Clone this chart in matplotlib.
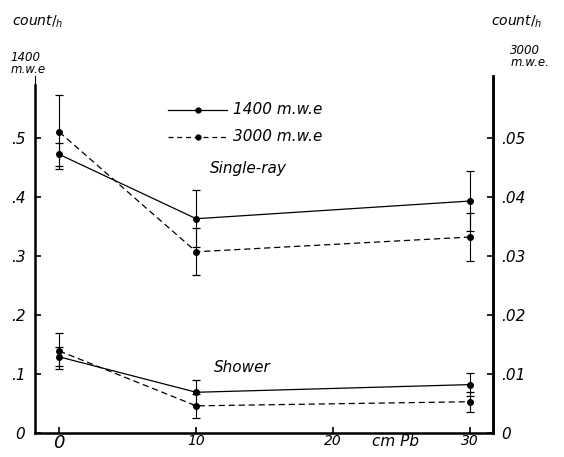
import matplotlib
matplotlib.use("Agg")
import matplotlib.pyplot as plt

# lead thickness (cm Pb)
pb = [0, 10, 30]

# single-ray rates, count/h
single_1400 = [0.472, 0.363, 0.393]
single_1400_err = [0.02, 0.048, 0.05]
single_3000 = [0.510, 0.307, 0.332]
single_3000_err = [0.062, 0.04, 0.04]

# shower rates, count/h
shower_1400 = [0.129, 0.069, 0.082]
shower_1400_err = [0.016, 0.021, 0.02]
shower_3000 = [0.139, 0.046, 0.053]
shower_3000_err = [0.031, 0.02, 0.017]

left_ticks = [0, 0.1, 0.2, 0.3, 0.4, 0.5]
left_labels = ["0", ".1", ".2", ".3", ".4", ".5"]
right_labels = ["0", ".01", ".02", ".03", ".04", ".05"]
x_ticks = [0, 10, 20, 30]
x_labels = ["0", "10", "20", "30"]

plt.rcParams['font.family'] = ['DejaVu Sans']
fnt = dict(style='italic', color='black')

fig = plt.figure(figsize=(5.64, 4.57), dpi=100)
ax = fig.add_axes([0.062, 0.0525, 0.812, 0.7815])
ax.set_xlim(-1.77, 31.66)
ax.set_ylim(0, 0.605)

def series(y, err, ls):
    ax.errorbar(pb, y, yerr=err, color='black', lw=0.9, ls=ls,
                marker='o', ms=4, capsize=3, elinewidth=0.8, capthick=0.9,
                dashes=(5, 3) if ls == '--' else (None, None))

series(single_1400, single_1400_err, '-')
series(single_3000, single_3000_err, '--')
series(shower_1400, shower_1400_err, '-')
series(shower_3000, shower_3000_err, '--')

for s in ['left', 'right', 'bottom']:
    ax.spines[s].set_linewidth(1.8)
ax.spines['top'].set_visible(False)
ax.spines['left'].set_bounds(0, 0.59)

ax.set_yticks(left_ticks)
ax.set_yticklabels(left_labels, fontsize=11, **fnt)
ax.set_xticks(x_ticks)
ax.set_xticklabels(x_labels, fontsize=10, **fnt)
ax.get_xticklabels()[0].set_fontsize(13)
ax.tick_params(axis='both', direction='in', length=4, width=1.2)
ax.tick_params(axis='x', pad=1)
ax.tick_params(axis='y', pad=7)

ax2 = ax.twinx()
ax2.set_ylim(0, 0.0605)
ax2.spines['top'].set_visible(False)
ax2.spines['right'].set_linewidth(1.8)
ax2.set_yticks([t / 10 for t in left_ticks])
ax2.set_yticklabels(right_labels, fontsize=11, **fnt)
ax2.tick_params(axis='y', direction='in', length=4, width=1.2, pad=6)

# axis headers
fig.text(0.022, 0.945, r"count$/_{h}$", fontsize=10, **fnt)
fig.text(0.018, 0.84, "1400\nm.w.e", fontsize=8.5, linespacing=0.95, **fnt)
fig.text(0.87, 0.945, r"count$/_{h}$", fontsize=10, **fnt)
fig.text(0.905, 0.855, "3000\nm.w.e.", fontsize=8.5, linespacing=0.95, **fnt)

# legend drawn by hand in axes coordinates
lx0, lx1 = 0.29, 0.42
for yy, ls, lab in [(0.905, '-', "1400 m.w.e"), (0.83, '--', "3000 m.w.e")]:
    ax.plot([lx0, lx1], [yy, yy], transform=ax.transAxes, color='black',
            lw=0.9, ls=ls, dashes=(4, 3) if ls == '--' else (None, None))
    ax.plot([(lx0 + lx1) / 2], [yy], 'o', ms=3.5, color='black',
            transform=ax.transAxes)
    ax.text(lx1 + 0.012, yy, lab, transform=ax.transAxes, va='center',
            fontsize=11, **fnt)

ax.text(11, 0.44, "Single-ray", fontsize=11, **fnt)
ax.text(11.3, 0.103, "Shower", fontsize=11, **fnt)
ax.text(22.8, -0.015, "cm Pb", fontsize=11, va='center', clip_on=False, **fnt)

fig.savefig("out.png", dpi=100)
